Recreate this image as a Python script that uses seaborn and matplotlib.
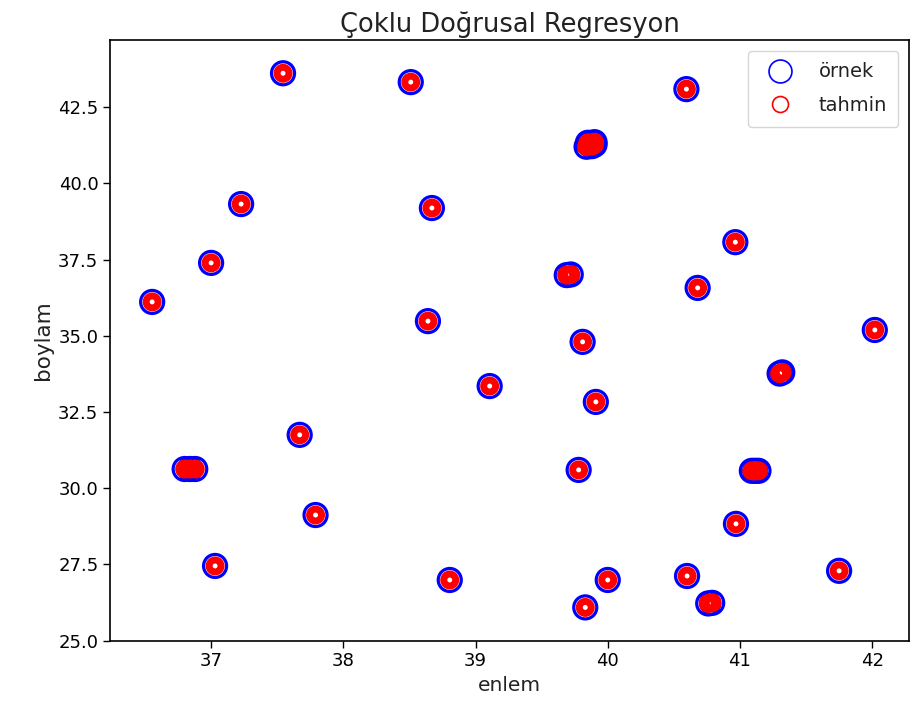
import matplotlib
matplotlib.use("Agg")
import matplotlib.pyplot as plt
from matplotlib.lines import Line2D
import seaborn as sns
import pandas as pd

# Sample locations (enlem = x, boylam = y)
enlem = [37.544, 38.51, 40.595,
         39.84, 39.90, 39.87, 39.88, 39.85, 39.90,
         37.227, 38.67, 40.965,
         37.00, 39.69, 39.72, 40.68, 36.554, 38.64, 42.02, 39.81, 41.30, 41.32,
         39.107, 39.91, 37.67, 36.80, 36.84, 36.88, 39.78, 41.09, 41.115, 41.14,
         37.79, 40.97, 37.03, 38.805, 40.00, 40.60, 41.75, 39.83, 40.76, 40.79]
boylam = [43.61, 43.32, 43.09,
          41.20, 41.35, 41.28, 41.22, 41.33, 41.27,
          39.32, 39.19, 38.07,
          37.39, 36.99, 37.01, 36.57, 36.11, 35.48, 35.19, 34.80, 33.76, 33.80,
          33.35, 32.83, 31.75, 30.63, 30.63, 30.63, 30.60, 30.57, 30.57, 30.57,
          29.12, 28.83, 27.45, 26.99, 26.99, 27.12, 27.29, 26.09, 26.22, 26.24]

# Model predictions at the same locations
tahmin_enlem = list(enlem)
tahmin_boylam = list(boylam)

sns.set_style("ticks")
plt.rcParams.update({
    "font.family": ["DejaVu Sans"],
    "axes.edgecolor": "black",
    "xtick.color": "black",
    "ytick.color": "black",
    "axes.labelcolor": "#222222",
    "text.color": "#222222",
})

fig = plt.figure(figsize=(9.11, 7.15), dpi=100)
ax = fig.add_axes([0.121, 0.104, 0.877, 0.840])

df_ornek = pd.DataFrame({"enlem": enlem, "boylam": boylam})
df_tahmin = pd.DataFrame({"enlem": tahmin_enlem, "boylam": tahmin_boylam})

sns.scatterplot(data=df_ornek, x="enlem", y="boylam", ax=ax, s=275,
                color="blue", facecolor="none", edgecolor="blue",
                linewidth=2.3, legend=False)
sns.scatterplot(data=df_tahmin, x="enlem", y="boylam", ax=ax, s=75,
                color="red", facecolor="none", edgecolor="red",
                linewidth=5.0, legend=False)

ax.set_xlim(36.237, 42.28)
ax.set_ylim(25.0, 44.7)
ax.set_xticks([37, 38, 39, 40, 41, 42])
ax.set_yticks([25.0, 27.5, 30.0, 32.5, 35.0, 37.5, 40.0, 42.5])
ax.set_yticklabels(["25.0", "27.5", "30.0", "32.5", "35.0", "37.5", "40.0", "42.5"])
ax.tick_params(labelsize=13, length=5, width=1)
for sp in ax.spines.values():
    sp.set_linewidth(1.2)
    sp.set_visible(True)

ax.set_xlabel("enlem", fontsize=14.5)
ax.set_ylabel("boylam", fontsize=15.5)
ax.set_title("Çoklu Doğrusal Regresyon", fontsize=18.5)

handles = [
    Line2D([], [], marker="o", ls="", mfc="none", mec="blue", ms=16.5, mew=1.2),
    Line2D([], [], marker="o", ls="", mfc="none", mec="red", ms=11.5, mew=1.2),
]
ax.legend(handles, ["örnek", "tahmin"], loc="upper right", fontsize=14,
          frameon=True, framealpha=0.8, edgecolor="#cccccc", fancybox=True,
          borderpad=0.6, labelspacing=0.75, handletextpad=1.0, handlelength=2.0,
          borderaxespad=0.55)

fig.savefig("out.png", dpi=100)
